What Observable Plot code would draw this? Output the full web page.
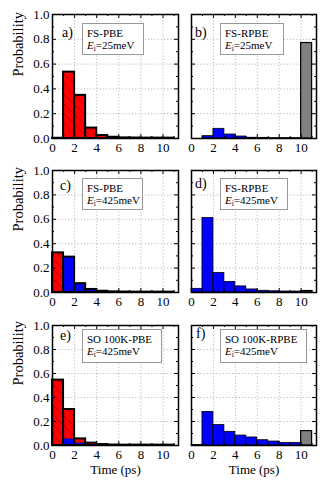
<!DOCTYPE html>
<html><head><meta charset="utf-8">
<script src="https://cdn.jsdelivr.net/npm/d3@7"></script>
<script src="https://cdn.jsdelivr.net/npm/@observablehq/plot@0.6"></script>
<style>
body{margin:0;background:#fff;}
#fig{position:relative;width:325px;height:492px;font-family:"Liberation Serif","Times New Roman","DejaVu Serif",serif;color:#000;}
#fig > div.p{position:absolute;}
#fig svg{overflow:visible;font-family:"Liberation Serif","Times New Roman","DejaVu Serif",serif !important;}
#fig svg text{font-family:"Liberation Serif","Times New Roman","DejaVu Serif",serif !important;}
.box{position:absolute;border:1px solid #999;background:#fff;font-size:11px;line-height:12px;padding:3px 0 0 4px;box-sizing:border-box;white-space:nowrap;}
.box sub{font-size:7.5px;vertical-align:baseline;position:relative;top:2px;}
.lab{position:absolute;font-size:14px;line-height:14px;}
</style></head><body>
<svg width="0" height="0" style="position:absolute">
  <defs>
    <pattern id="hatch" patternUnits="userSpaceOnUse" width="10" height="10">
      <rect width="10" height="10" fill="#ff0000"></rect>
      <path d="M-2,-2 L12,12 M-2,8 L2,12 M8,-2 L12,2" stroke="#7a0000" stroke-width="0.6"></path>
    </pattern>
  </defs>
</svg>
<div id="fig"></div>
<script>
// bin left edges (ps), width 1
const bins = [0, 1, 2, 3, 4, 5, 6, 7, 8, 9, 10];
const xMajor = [0, 2, 4, 6, 8, 10];
const xMinor = [1, 3, 5, 7, 9, 11];
const yMajor = [0, 0.2, 0.4, 0.6, 0.8, 1.0];
const yMinor = [0.1, 0.3, 0.5, 0.7, 0.9];
const xGrid = [2, 4, 6, 8, 10];
const yGrid = [0.2, 0.4, 0.6, 0.8];

const letters = ["a)", "b)", "c)", "d)", "e)", "f)"];
const titles = ["FS-PBE", "FS-RPBE", "FS-PBE", "FS-RPBE", "SO 100K-PBE", "SO 100K-RPBE"];
const energies = ["25meV", "25meV", "425meV", "425meV", "425meV", "425meV"];

// panel a: FS-PBE 25 meV
const aRed  = [0.002, 0.535, 0.348, 0.084, 0.024, 0.010, 0.005, 0.004, 0.003, 0.003, 0.003];
const aBlue = [0, 0, 0, 0, 0, 0, 0, 0, 0, 0, 0];
// panel b: FS-RPBE 25 meV
const bBlue = [0, 0.019, 0.078, 0.032, 0.016, 0.006, 0.004, 0.003, 0.003, 0.003];
const bGray = 0.77;
// panel c: FS-PBE 425 meV
const cRed  = [0.325, 0, 0, 0, 0, 0, 0, 0, 0, 0, 0];
const cBlue = [0, 0.29, 0.072, 0.025, 0.010, 0.005, 0.004, 0.003, 0.003, 0.003, 0.003];
// panel d: FS-RPBE 425 meV
const dBlue = [0.03, 0.61, 0.16, 0.087, 0.05, 0.025, 0.014, 0.010, 0.008, 0.008];
const dGray = 0.012;
// panel e: SO 100K-PBE 425 meV
const eRed  = [0.545, 0.245, 0.035, 0.012, 0.004, 0.002, 0.002, 0.002, 0.002, 0.002, 0.002];
const eBlue = [0, 0.055, 0.020, 0.008, 0.004, 0.002, 0.001, 0.001, 0.001, 0.001, 0.001];
// panel f: SO 100K-RPBE 425 meV
const fBlue = [0.005, 0.28, 0.17, 0.114, 0.083, 0.067, 0.044, 0.033, 0.022, 0.022];
const fGray = 0.12;

const cols = [{left: 0, width: 185, ml: 52, mr: 7}, {left: 185, width: 140, ml: 6, mr: 9}];
const rowsL = [{top: 0, height: 156, mt: 14, mb: 18}, {top: 156, height: 156, mt: 14, mb: 20}, {top: 312, height: 180, mt: 13, mb: 47}];

const panels = [
  {blue: aBlue, red: aRed},
  {blue: bBlue, gray: bGray},
  {blue: cBlue, red: cRed},
  {blue: dBlue, gray: dGray},
  {blue: eBlue, red: eRed},
  {blue: fBlue, gray: fGray}
];

const boxes = [
  {l: 82, t: 23, w: 62, h: 32}, {l: 220, t: 23, w: 64, h: 32},
  {l: 82, t: 178, w: 61, h: 32}, {l: 220, t: 178, w: 68, h: 32},
  {l: 82, t: 329, w: 80, h: 34}, {l: 220, t: 329, w: 87, h: 34}
];
const labs = [{l: 62, t: 26}, {l: 195, t: 26}, {l: 60, t: 179}, {l: 195, t: 177}, {l: 60, t: 329}, {l: 196, t: 327}];

const fig = document.getElementById("fig");
const FONT = "'Liberation Serif', 'Times New Roman', 'DejaVu Serif', serif";

panels.forEach((p, k) => {
  const c = cols[k % 2], r = rowsL[Math.floor(k / 2)];
  const isLeft = k % 2 === 0, isBottom = k >= 4;
  const fw = c.width - c.ml - c.mr, fh = r.height - r.mt - r.mb;
  const data = p.blue.map((v, i) => ({x1: bins[i], x2: bins[i] + 1, blue: v, red: p.red ? p.red[i] : 0}));
  const marks = [
    Plot.ruleX(xGrid, {stroke: "#9a9a9a", strokeDasharray: "1,2.2", strokeWidth: 0.8}),
    Plot.ruleY(yGrid, {stroke: "#9a9a9a", strokeDasharray: "1,2.2", strokeWidth: 0.8}),
    Plot.rectY(data, {x1: "x1", x2: "x2", y1: 0, y2: "blue", fill: "#0000ff", stroke: "black", strokeWidth: 0.8})
  ];
  if (p.red) {
    marks.push(Plot.rectY(data, {x1: "x1", x2: "x2", y1: "blue", y2: d => d.blue + d.red, fill: "url(#hatch)"}));
    marks.push(Plot.rectY(data, {x1: "x1", x2: "x2", y1: 0, y2: d => d.blue + d.red, fill: "none", stroke: "black", strokeWidth: 2}));
  }
  if (p.gray != null) {
    marks.push(Plot.rectY([{x1: 10, x2: 11, v: p.gray}], {x1: "x1", x2: "x2", y1: 0, y2: "v", fill: "#808080", stroke: "black", strokeWidth: 1.2}));
  }
  marks.push(
    Plot.ruleX(xMajor, {insetTop: fh - 4, stroke: "black"}),
    Plot.ruleX(xMajor, {insetBottom: fh - 4, stroke: "black"}),
    Plot.ruleX(xMinor.filter(v => v < 11.4), {insetTop: fh - 2, stroke: "black"}),
    Plot.ruleX(xMinor.filter(v => v < 11.4), {insetBottom: fh - 2, stroke: "black"}),
    Plot.ruleY(yMajor, {insetRight: fw - 4, stroke: "black"}),
    Plot.ruleY(yMajor, {insetLeft: fw - 4, stroke: "black"}),
    Plot.ruleY(yMinor, {insetRight: fw - 2, stroke: "black"}),
    Plot.ruleY(yMinor, {insetLeft: fw - 2, stroke: "black"}),
    Plot.frame({stroke: "black", strokeWidth: 1.5}),
    Plot.axisX({ticks: xMajor, tickSize: 0, tickPadding: 4, tickFormat: d => String(d), fontSize: 13, fontFamily: FONT, label: null})
  );
  if (isLeft) {
    marks.push(
      Plot.axisY({ticks: yMajor, tickSize: 0, tickPadding: 3, tickFormat: d3.format(".1f"), fontSize: 13, fontFamily: FONT, label: null}),
      Plot.text(["Probability"], {frameAnchor: "left", rotate: -90, dx: -34, fontSize: 14.5, fontFamily: FONT})
    );
  }
  if (isBottom) {
    marks.push(Plot.text(["Time (ps)"], {frameAnchor: "bottom", dy: 28, fontSize: 13, fontFamily: FONT}));
  }
  const svg = Plot.plot({
    width: c.width, height: r.height,
    marginLeft: c.ml, marginRight: c.mr, marginTop: r.mt, marginBottom: r.mb,
    x: {domain: [0, 11.4], axis: null, label: null},
    y: {domain: [0, 1], axis: null, label: null},
    style: {fontFamily: FONT, fontSize: "13px", color: "black", background: "transparent", overflow: "visible"},
    marks
  });
  const wrap = document.createElement("div");
  wrap.className = "p";
  wrap.style.left = c.left + "px";
  wrap.style.top = r.top + "px";
  wrap.appendChild(svg);
  fig.appendChild(wrap);
});

boxes.forEach((b, k) => {
  const d = document.createElement("div");
  d.className = "box";
  Object.assign(d.style, {left: b.l + "px", top: b.t + "px", width: b.w + "px", height: b.h + "px"});
  const l1 = document.createElement("div");
  l1.textContent = titles[k];
  const l2 = document.createElement("div");
  l2.innerHTML = "<i>E</i><sub>i</sub>=" + energies[k];
  d.appendChild(l1); d.appendChild(l2);
  fig.appendChild(d);
});
labs.forEach((b, k) => {
  const d = document.createElement("div");
  d.className = "lab";
  Object.assign(d.style, {left: b.l + "px", top: b.t + "px"});
  d.textContent = letters[k];
  fig.appendChild(d);
});
</script>
</body></html>
